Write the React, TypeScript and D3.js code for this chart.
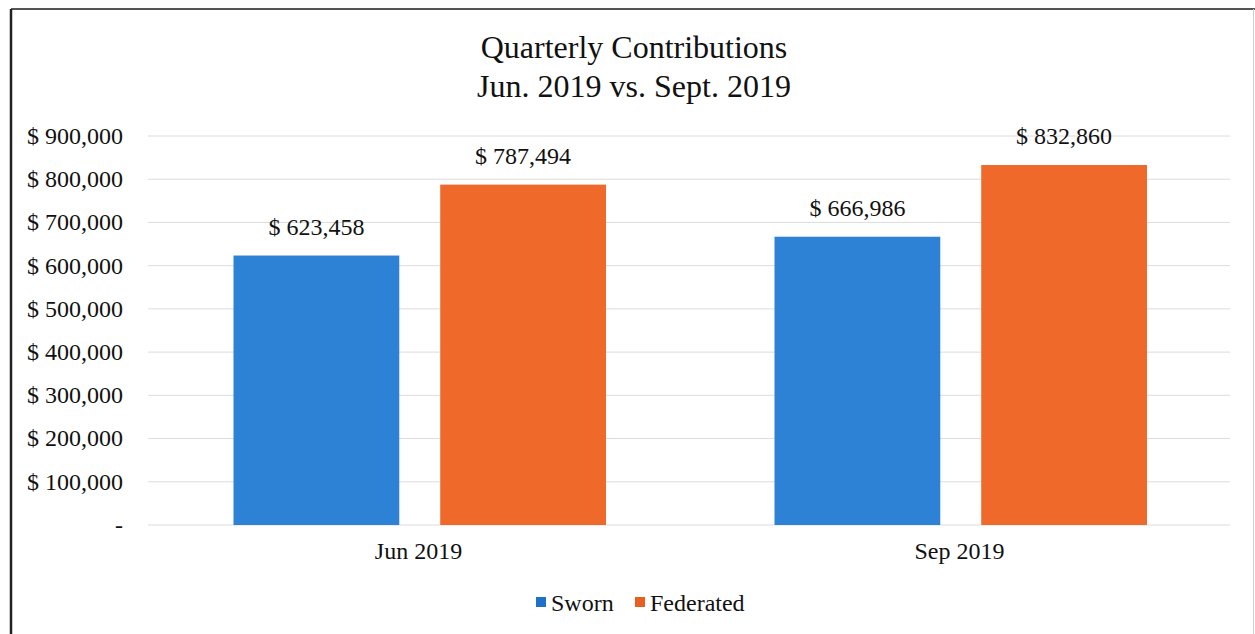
import React from "react";
import * as d3 from "d3";

const categories = ["Jun 2019", "Sep 2019"];
const seriesNames = ["Sworn", "Federated"];
const sworn = [623458, 666986];
const federated = [787494, 832860];
const yTicks = [0, 100000, 200000, 300000, 400000, 500000, 600000, 700000, 800000, 900000];
const titleLines = ["Quarterly Contributions", "Jun. 2019 vs. Sept. 2019"];

const W = 1255;
const H = 634;
const FONT = "'Liberation Serif', 'Times New Roman', serif";
const barColors = ["#2d82d5", "#ef6a2a"];
const legendColors = ["#1f70c8", "#e95f20"];

export default function App() {
  const plotLeft = 148;
  const plotRight = 1230;
  const y = d3.scaleLinear().domain([0, 900000]).range([525, 136]);
  const x0 = d3.scaleBand<string>().domain(categories).range([plotLeft, plotRight]).paddingInner(0).paddingOuter(0);
  const x1 = d3
    .scaleBand<string>()
    .domain(seriesNames)
    .range([85.5, x0.bandwidth() - 83])
    .paddingInner(0.198)
    .paddingOuter(0);
  const values = [sworn, federated];
  const fmt = d3.format(",");
  const fs = 24;

  return (
    <svg
      width={W}
      height={H}
      style={{ position: "absolute", left: 0, top: 0, background: "#fff" }}
      fontFamily={FONT}
    >
      <rect x={0} y={0} width={W} height={H} fill="#fff" />
      {/* frame */}
      <line x1={11} y1={9} x2={W} y2={9} stroke="#555" strokeWidth={2} />
      <line x1={11} y1={9} x2={11} y2={H} stroke="#222" strokeWidth={2.5} />
      <line x1={1253.5} y1={9} x2={1253.5} y2={H} stroke="#ccc" strokeWidth={1} />

      {/* title */}
      {titleLines.map((t, i) => (
        <text key={t} x={634} y={58 + i * 39} textAnchor="middle" fontSize={32} fill="#111">
          {t}
        </text>
      ))}

      {/* gridlines & y labels */}
      {yTicks.map((v) => (
        <g key={v}>
          <line x1={plotLeft} x2={plotRight} y1={y(v)} y2={y(v)} stroke="#dcdcdc" strokeWidth={1} />
          <text x={123} y={y(v)} dy="0.33em" textAnchor="end" fontSize={fs} fill="#111">
            {v === 0 ? "-" : `$ ${fmt(v)}`}
          </text>
        </g>
      ))}

      {/* bars */}
      {categories.map((c, ci) => (
        <g key={c} transform={`translate(${x0(c)},0)`}>
          {seriesNames.map((s, si) => {
            const v = values[si][ci];
            const bx = x1(s)!;
            return (
              <g key={s}>
                <rect x={bx} y={y(v)} width={x1.bandwidth()} height={y(0) - y(v)} fill={barColors[si]} />
                <text
                  x={bx + x1.bandwidth() / 2}
                  y={y(v) - 21}
                  textAnchor="middle"
                  fontSize={fs}
                  fill="#111"
                >
                  {`$ ${fmt(v)}`}
                </text>
              </g>
            );
          })}
          <text x={x0.bandwidth() / 2} y={559} textAnchor="middle" fontSize={fs} fill="#111">
            {c}
          </text>
        </g>
      ))}

      {/* legend */}
      {seriesNames.map((s, i) => {
        const lx = i === 0 ? 536 : 635;
        return (
          <g key={s}>
            <rect x={lx} y={597} width={10} height={10} fill={legendColors[i]} />
            <text x={lx + 15} y={611} fontSize={fs} fill="#111">
              {s}
            </text>
          </g>
        );
      })}
    </svg>
  );
}
